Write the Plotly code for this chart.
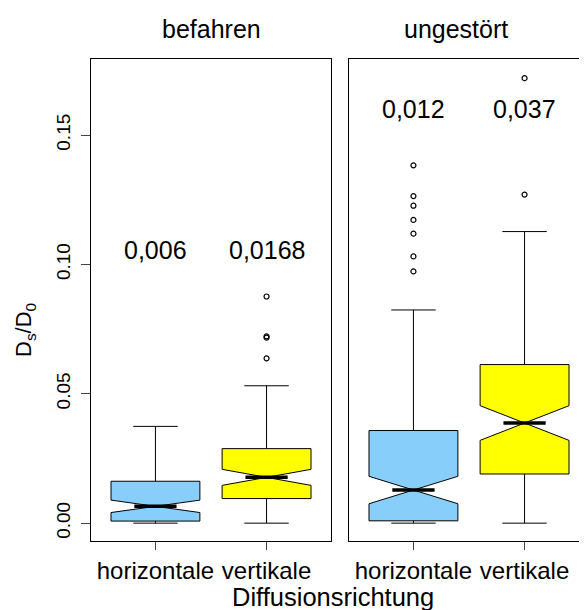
import plotly.graph_objects as go

# ---- data ----
panels = ["befahren", "ungestört"]
categories = ["horizontale", "vertikale"]
positions = [1, 2]

# befahren
bef_q1 = [0.0008, 0.0095]
bef_median = [0.0065, 0.0177]
bef_q3 = [0.0162, 0.0288]
bef_lower = [0.0, 0.0]
bef_upper = [0.0374, 0.0531]
bef_notch = [0.0024, 0.0031]
bef_out_h = []
bef_out_v = [0.0876, 0.0722, 0.0717, 0.0637]
bef_labels = ["0,006", "0,0168"]

# ungestört
ung_q1 = [0.0009, 0.0190]
ung_median = [0.0128, 0.0387]
ung_q3 = [0.0358, 0.0613]
ung_lower = [0.0, 0.0]
ung_upper = [0.0824, 0.1127]
ung_notch = [0.0053, 0.0067]
ung_out_h = [0.1383, 0.1264, 0.1227, 0.1172, 0.1119, 0.1031, 0.0973]
ung_out_v = [0.1720, 0.1270]
ung_labels = ["0,012", "0,037"]

label_y = [0.1054, 0.160]
colors = ["#87CEFA", "#FFFF00"]
y_ticks = [0.0, 0.05, 0.10, 0.15]
y_ticktext = ["0.00", "0.05", "0.10", "0.15"]

FONT = "Liberation Sans, Arial, sans-serif"
BOXW = 0.8
NOTCHW = 0.5

fig = go.Figure()

panel_data = [
    (bef_q1, bef_median, bef_q3, bef_lower, bef_upper, bef_notch, [bef_out_h, bef_out_v], bef_labels),
    (ung_q1, ung_median, ung_q3, ung_lower, ung_upper, ung_notch, [ung_out_h, ung_out_v], ung_labels),
]

for p, (q1, med, q3, lo, up, nt, outs, labs) in enumerate(panel_data):
    xa = "x" if p == 0 else "x2"
    ya = "y" if p == 0 else "y2"
    for i in range(2):
        fig.add_trace(go.Box(
            x=[positions[i]], q1=[q1[i]], median=[med[i]], q3=[q3[i]],
            lowerfence=[lo[i]], upperfence=[up[i]], notchspan=[nt[i]],
            notched=True, notchwidth=NOTCHW, whiskerwidth=0.5, width=BOXW,
            fillcolor=colors[i], line=dict(color="black", width=1),
            boxpoints=False, showlegend=False, hoverinfo="skip",
            xaxis=xa, yaxis=ya,
        ))
        # thick median line across the notch
        half = BOXW / 2 * (1 - NOTCHW) * 0.95
        fig.add_trace(go.Scatter(
            x=[positions[i] - half, positions[i] + half], y=[med[i], med[i]],
            mode="lines", line=dict(color="black", width=3.5),
            showlegend=False, hoverinfo="skip", xaxis=xa, yaxis=ya,
        ))
        if outs[i]:
            fig.add_trace(go.Scatter(
                x=[positions[i]] * len(outs[i]), y=outs[i], mode="markers",
                marker=dict(symbol="circle-open", size=5, color="black",
                            line=dict(width=1.2, color="black")),
                showlegend=False, hoverinfo="skip", xaxis=xa, yaxis=ya,
            ))
        fig.add_annotation(
            x=positions[i], y=label_y[p], xref=xa, yref=ya, text=labs[i],
            showarrow=False, font=dict(family=FONT, size=25, color="black"),
        )

# The page body has an 8px margin, so figure pixels = screen pixels - 8.
OFF = 8
W, H = 587, 610
ML, MR, MT = 91 - OFF, OFF, 59 - OFF
MB = H - (541 - OFF)
pw = W - ML - MR
ph = H - MT - MB
d1 = (331 - 91) / pw
d2 = (349 - 91) / pw
ppu = (331 - 91) / 2.16
r2 = 0.42 + (587 - 349) / ppu

axis_common = dict(
    showline=True, linecolor="black", linewidth=1, showgrid=False, zeroline=False,
    ticks="outside", ticklen=8, tickcolor="#444", automargin=False,
    tickfont=dict(family=FONT, size=24, color="black"),
    tickvals=positions, ticktext=categories,
)

fig.update_layout(
    width=W, height=H, margin=dict(l=ML, r=MR, t=MT, b=MB, autoexpand=False),
    plot_bgcolor="white", paper_bgcolor="white",
    font=dict(family=FONT, color="black"),
    xaxis=dict(domain=[0, d1], range=[0.42, 2.58], mirror=True, anchor="y", **axis_common),
    xaxis2=dict(domain=[d2, 1], range=[0.42, r2], mirror=True, anchor="y2", **axis_common),
    yaxis=dict(domain=[0, 1], range=[-0.0069, 0.1794], showline=True, mirror=True,
               linecolor="black", linewidth=1, showgrid=False, zeroline=False,
               ticks="outside", ticklen=9, tickcolor="#444", automargin=False,
               ticklabelstandoff=3,
               tickvals=y_ticks, ticktext=y_ticktext, tickangle=-90,
               tickfont=dict(family=FONT, size=19, color="black")),
    yaxis2=dict(domain=[0, 1], range=[-0.0069, 0.1794], anchor="x2", automargin=False,
                showline=True, mirror=False, linecolor="black", linewidth=1,
                showgrid=False, zeroline=False, showticklabels=False, ticks=""),
)

# y-axis title
fig.add_annotation(x=(25 - 91) / pw, y=(541 - 330) / ph, xref="paper", yref="paper",
                   xanchor="center", yanchor="middle", textangle=-90,
                   text="D<sub>s</sub>/D<sub>0</sub>", showarrow=False,
                   font=dict(family=FONT, size=22, color="black"))
# panel titles
for name, cx in zip(panels, [211, 456]):
    fig.add_annotation(x=(cx - 91) / pw, y=1, xref="paper", yref="paper",
                       xanchor="center", yanchor="middle", yshift=30,
                       text=name, showarrow=False,
                       font=dict(family=FONT, size=25, color="black"))
# shared x-axis title
fig.add_annotation(x=(333 - 91) / pw, y=0, xref="paper", yref="paper",
                   xanchor="center", yanchor="middle", yshift=-56,
                   text="Diffusionsrichtung", showarrow=False,
                   font=dict(family=FONT, size=25.5, color="black"))

fig.write_html("out.html")
